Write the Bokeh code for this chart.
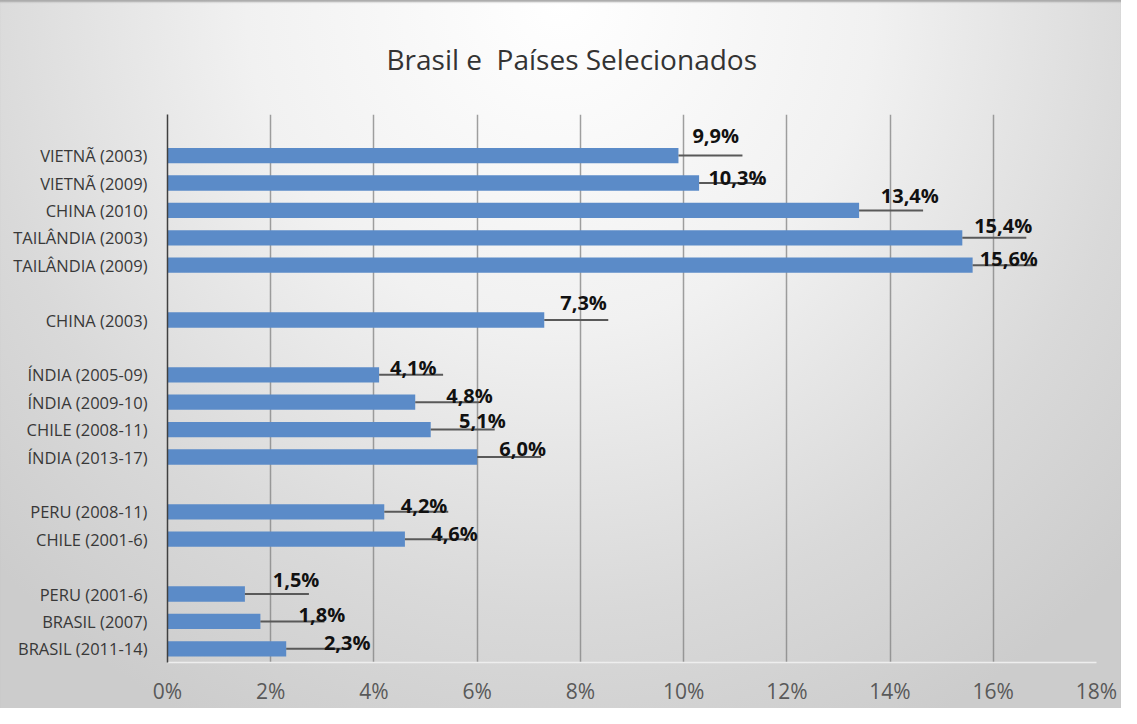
from bokeh.plotting import figure
from bokeh.models import FactorRange, Range1d, FixedTicker, ColumnDataSource
from bokeh.embed import file_html
from bokeh.resources import INLINE
from bokeh.core.properties import value

# ---------------- data ----------------
categories = ["VIETNÃ (2003)", "VIETNÃ (2009)", "CHINA (2010)", "TAILÂNDIA (2003)", "TAILÂNDIA (2009)",
              "CHINA (2003)",
              "ÍNDIA (2005-09)", "ÍNDIA (2009-10)", "CHILE (2008-11)", "ÍNDIA (2013-17)",
              "PERU (2008-11)", "CHILE (2001-6)",
              "PERU (2001-6)", "BRASIL (2007)", "BRASIL (2011-14)"]
values = [9.9, 10.3, 13.4, 15.4, 15.6,
          7.3,
          4.1, 4.8, 5.1, 6.0,
          4.2, 4.6,
          1.5, 1.8, 2.3]
group_sizes = [5, 1, 4, 2, 3]
x_ticks = [0, 2, 4, 6, 8, 10, 12, 14, 16, 18]
title_text = "Brasil e \u00a0Países Selecionados"

# label nudges (annotation styling, in % units / pixels)
label_dx = [0.27, 0.18, 0.42, 0.23, 0.14, 0.31, 0.21, 0.60, 0.55, 0.43, 0.32, 0.51, 0.54, 0.74, 0.73]
label_dy = [-20, -6, -15, -12, -7, -18, -7, -7, -9, -9, -6, -6, -15, -7, -6]
leader_len = 1.24

# ---------------- layout of category slots ----------------
slots = [" "]
k = 0
for gi, n in enumerate(group_sizes):
    if gi > 0:
        slots.append(" " * (gi + 1))
    slots.extend(categories[k:k + n])
    k += n

src = ColumnDataSource(dict(
    cat=categories,
    val=values,
    lead_end=[v + leader_len for v in values],
    lx=[v + d for v, d in zip(values, label_dx)],
    ldy=label_dy,
    txt=[("%.1f%%" % v).replace(".", ",") for v in values],
))

p = figure(width=1121, height=708,
           y_range=FactorRange(factors=slots[::-1]),
           x_range=Range1d(0, 18),
           output_backend="svg", toolbar_location=None,
           min_border_left=167, min_border_right=25,
           min_border_top=112, min_border_bottom=46,
           title=title_text)

p.background_fill_color = None
p.border_fill_color = None
p.outline_line_color = None
p.styles = {
    "background": "radial-gradient(ellipse 70% 115% at 50% 0%, #ffffff 0%, #f1f1f1 40%, #d9d9d9 75%, #cccccc 100%)",
    "box-shadow": "inset 0 3px 2px -1px #a9a9a9",
}

# title
p.title.text_font = "Open Sans"
p.title.text_font_size = "28px"
p.title.text_font_style = "normal"
p.title.text_color = "#333333"
p.title.align = "left"
p.title.offset = 219
p.title.standoff = 74

# bars
p.hbar(y="cat", right="val", left=0, height=0.56, source=src,
       fill_color="#5b8bc8", line_color=None)

# leader lines
p.segment(x0="val", y0="cat", x1="lead_end", y1="cat", source=src,
          line_color="#595959", line_width=2)

# labels
p.text(x="lx", y="cat", text="txt", y_offset="ldy", source=src,
       text_font=value("Open Sans"), text_font_style="bold",
       text_font_size="20px", text_color="#111111",
       text_align="left", text_baseline="middle")

# axes
p.xaxis.ticker = FixedTicker(ticks=x_ticks)
p.xaxis.major_label_overrides = {t: "%d%%" % t for t in x_ticks}
p.xaxis.major_label_text_font = "Open Sans"
p.xaxis.major_label_text_font_size = "21px"
p.xaxis.major_label_text_color = "#595959"
p.xaxis.axis_line_color = "#eeeeee"
p.xaxis.axis_line_width = 1.5
p.xaxis.major_tick_line_color = None
p.xaxis.minor_tick_line_color = None
p.xaxis.major_label_standoff = 8

p.yaxis.major_label_text_font = "Open Sans"
p.yaxis.major_label_text_font_size = "16.5px"
p.yaxis.major_label_text_color = "#383838"
p.yaxis.axis_line_color = "#404040"
p.yaxis.axis_line_width = 1.5
p.yaxis.major_tick_line_color = None
p.yaxis.minor_tick_line_color = None
p.yaxis.major_tick_out = 0
p.yaxis.major_label_standoff = 20

p.xgrid.grid_line_color = "#808080"
p.xgrid.grid_line_alpha = 0.75
p.xgrid.grid_line_width = 1.5
p.ygrid.grid_line_color = None

open("out.html", "w").write(file_html(p, INLINE))
